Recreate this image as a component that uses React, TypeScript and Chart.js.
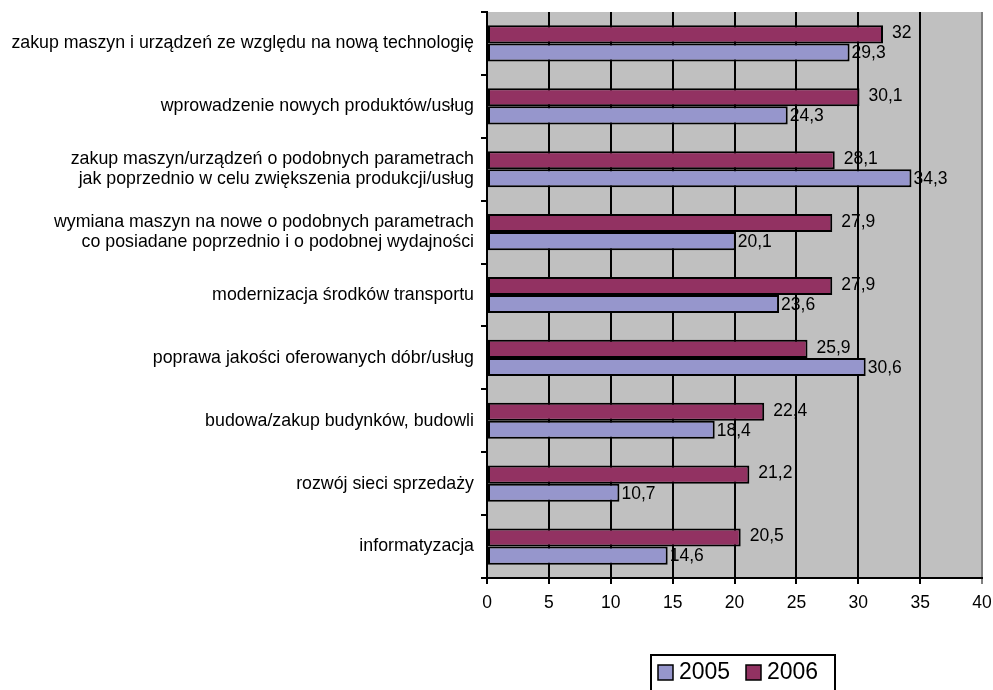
import React, { useEffect, useRef } from "react";
import { Chart, registerables } from "chart.js";

Chart.register(...registerables);

const categories: (string | string[])[] = [
  "zakup maszyn i urządzeń ze względu na nową technologię",
  "wprowadzenie nowych produktów/usług",
  ["zakup maszyn/urządzeń o podobnych parametrach", "jak poprzednio w celu zwiększenia produkcji/usług"],
  ["wymiana maszyn na nowe o podobnych parametrach", "co posiadane poprzednio i o podobnej wydajności"],
  "modernizacja środków transportu",
  "poprawa jakości oferowanych dóbr/usług",
  "budowa/zakup budynków, budowli",
  "rozwój sieci sprzedaży",
  "informatyzacja",
];
const values2006 = [32, 30.1, 28.1, 27.9, 27.9, 25.9, 22.4, 21.2, 20.5];
const values2005 = [29.3, 24.3, 34.3, 20.1, 23.6, 30.6, 18.4, 10.7, 14.6];
const seriesNames = ["2005", "2006"];
const xTicks = [0, 5, 10, 15, 20, 25, 30, 35, 40];

const COLOR_2005 = "#9696CC";
const COLOR_2006 = "#923262";
const FONT = "'Liberation Sans', Arial, sans-serif";

const fmt = (v: number) => String(v).replace(".", ",");

const bgPlugin = {
  id: "bgPlugin",
  beforeDraw(chart: any) {
    const { ctx, chartArea } = chart;
    ctx.save();
    ctx.fillStyle = "#FFFFFF";
    ctx.fillRect(0, 0, chart.width, chart.height);
    ctx.fillStyle = "#C0C0C0";
    ctx.fillRect(chartArea.left, chartArea.top, chartArea.right - chartArea.left, chartArea.bottom - chartArea.top);
    ctx.restore();
  },
};

const labelPlugin = {
  id: "labelPlugin",
  afterDatasetsDraw(chart: any) {
    const { ctx } = chart;
    ctx.save();
    ctx.font = `17.5px ${FONT}`;
    ctx.fillStyle = "#000";
    ctx.textBaseline = "middle";
    ctx.textAlign = "left";
    chart.data.datasets.forEach((ds: any, di: number) => {
      const meta = chart.getDatasetMeta(di);
      const offset = ds.label === "2006" ? 9 : 2;
      meta.data.forEach((el: any, i: number) => {
        ctx.fillText(fmt(ds.data[i]), el.x + offset, el.y + (ds.label === "2005" ? 1 : -1));
      });
    });
    ctx.restore();
  },
};

const legendPlugin = {
  id: "legendPlugin",
  afterDraw(chart: any) {
    const { ctx } = chart;
    ctx.save();
    ctx.strokeStyle = "#000";
    ctx.lineWidth = 2;
    ctx.strokeRect(651, 655, 184, 50);
    const items = [
      { name: seriesNames[0], color: COLOR_2005, x: 658 },
      { name: seriesNames[1], color: COLOR_2006, x: 746 },
    ];
    ctx.font = `23px ${FONT}`;
    ctx.textBaseline = "middle";
    ctx.textAlign = "left";
    items.forEach((it) => {
      ctx.fillStyle = it.color;
      ctx.fillRect(it.x, 665, 15, 15);
      ctx.lineWidth = 1.5;
      ctx.strokeRect(it.x, 665, 15, 15);
      ctx.fillStyle = "#000";
      ctx.fillText(it.name, it.x + 21, 673);
    });
    ctx.restore();
  },
};

export default function App() {
  const ref = useRef<HTMLCanvasElement>(null);
  useEffect(() => {
    if (!ref.current) return;
    const chart = new Chart(ref.current, {
      type: "bar",
      data: {
        labels: categories as any,
        datasets: [
          {
            label: seriesNames[1],
            data: values2006,
            backgroundColor: COLOR_2006,
            borderColor: "#000",
            borderWidth: 2,
            borderSkipped: false,
            categoryPercentage: 0.575,
            barPercentage: 1,
          },
          {
            label: seriesNames[0],
            data: values2005,
            backgroundColor: COLOR_2005,
            borderColor: "#000",
            borderWidth: 2,
            borderSkipped: false,
            categoryPercentage: 0.575,
            barPercentage: 1,
          },
        ],
      },
      options: {
        indexAxis: "y",
        responsive: false,
        animation: false,
        layout: { padding: { top: 12, right: 11, left: 0, bottom: 0 } },
        plugins: {
          legend: { display: false },
          tooltip: { enabled: false },
        },
        scales: {
          x: {
            min: 0,
            max: 40,
            afterBuildTicks: (scale: any) => {
              scale.ticks = xTicks.map((v) => ({ value: v }));
            },
            afterFit: (scale: any) => {
              scale.height = 112;
              scale.paddingLeft = 0;
              scale.paddingRight = 0;
            },
            grid: {
              color: (c: any) => (c.tick && c.tick.value === 40 ? "#808080" : "#000"),
              lineWidth: 2,
              tickLength: 6,
              drawTicks: true,
            },
            border: { color: "#000", width: 2 },
            ticks: {
              color: "#000",
              font: { family: FONT, size: 17.5 },
              padding: 9,
              maxRotation: 0,
            },
          },
          y: {
            afterFit: (scale: any) => {
              scale.width = 487;
              scale.paddingTop = 0;
              scale.paddingBottom = 0;
            },
            grid: {
              drawOnChartArea: false,
              color: "#000",
              lineWidth: 2,
              tickLength: 6,
              offset: true,
            },
            border: { color: "#000", width: 2 },
            ticks: {
              color: "#000",
              font: { family: FONT, size: 17.8, lineHeight: 1.12 },
              padding: 7,
              autoSkip: false,
            },
          },
        },
      },
      plugins: [bgPlugin, labelPlugin, legendPlugin],
    });
    return () => chart.destroy();
  }, []);
  return (
    <div style={{ position: "absolute", left: 0, top: 0, width: 993, height: 690 }}>
      <canvas ref={ref} width={993} height={690} style={{ display: "block" }} />
    </div>
  );
}
